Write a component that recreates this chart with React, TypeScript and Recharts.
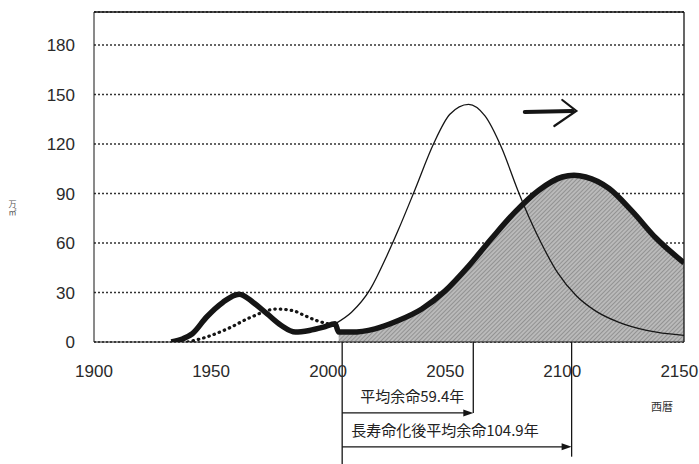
import React from 'react';
import {
  ComposedChart,
  Line,
  Area,
  XAxis,
  YAxis,
  CartesianGrid,
  ReferenceLine,
} from 'recharts';

// thick line: floor area built, shaded part is after long-life program
const thickYears = [1933, 1938, 1942, 1948, 1955, 1962, 1968, 1974, 1980, 1986, 1992, 1998, 2003, 2004.5, 2010, 2020, 2030, 2040, 2050, 2060, 2070, 2080, 2090, 2100, 2105, 2110, 2120, 2130, 2140, 2152];
const thickValues = [0, 2, 5, 15, 24, 29, 24, 17, 10, 6, 7, 9, 11, 6, 6, 8, 13, 20, 31, 46, 63, 79, 92, 100, 101, 100, 93, 79, 63, 48];

// thin line: renewal without long-life program
const thinYears = [2003, 2010, 2018, 2025, 2030, 2037, 2045, 2052, 2060, 2067, 2074, 2081, 2086, 2091, 2098, 2106, 2114, 2124, 2136, 2152];
const thinValues = [11, 18, 32, 52, 68, 92, 120, 138, 144, 137, 118, 92, 75, 60, 42, 28, 19, 12, 7, 4];

// dotted line
const dotYears = [1940, 1948, 1957, 1967, 1978, 1985, 1990, 1995, 2000, 2003];
const dotValues = [0, 3, 8, 15, 20, 19, 16, 13, 11, 10];

const xTicks = [1900, 1950, 2000, 2050, 2100, 2150];
const yTicks = [0, 30, 60, 90, 120, 150, 180];

const startYear = 2006;
const lifeEndYear = 2062;
const longLifeEndYear = 2104;
const label1 = '平均余命59.4年';
const label2 = '長寿命化後平均余命104.9年';

const toRows = (xs: number[], vs: number[]) => xs.map((year, i) => ({ year, v: vs[i] }));

const thickData = toRows(thickYears, thickValues);
const thinData = toRows(thinYears, thinValues);
const dotData = toRows(dotYears, dotValues);
const shadedData = thickData.filter(d => d.year >= 2004.5);

const INK = '#151515';
const JP = '"Noto Sans CJK JP", "Noto Sans", sans-serif';
const TICK_FONT = { fill: '#2a2a2a', fontSize: 17, fontFamily: '"Liberation Sans", Arial, sans-serif' };

const plainLine = (props: any) => (
  <line x1={props.x1} y1={props.y1} x2={props.x2} y2={props.y2} stroke={INK} strokeWidth={1.3} />
);

const arrowWithText = (text: string, align: 'start' | 'end') => (props: any) => {
  const { x1, y1, x2, y2 } = props;
  const tx = align === 'end' ? x2 - 9 : x1 + 9;
  return (
    <g>
      <line x1={x1} y1={y1} x2={x2 - 8} y2={y2} stroke={INK} strokeWidth={1.3} />
      <polygon points={`${x2},${y2} ${x2 - 10},${y2 - 3.5} ${x2 - 10},${y2 + 3.5}`} fill={INK} />
      <text x={tx} y={y1 - 11} textAnchor={align} fontSize={15} fontFamily={JP} fill="#222">
        {text}
      </text>
    </g>
  );
};

const handArrow = (props: any) => {
  const { x1, y1, x2, y2 } = props;
  return (
    <g stroke={INK} fill="none" strokeLinecap="round">
      <line x1={x1} y1={y1 + 1} x2={x2 - 4} y2={y2} strokeWidth={4} />
      <polyline points={`${x2 - 14},${y2 - 11} ${x2},${y2} ${x2 - 22},${y2 + 15}`} strokeWidth={2.2} />
    </g>
  );
};

const App: React.FC = () => {
  return (
    <div style={{ position: 'absolute', left: 0, top: 0, width: 699, height: 464, background: '#fff' }}>
      <ComposedChart
        width={699}
        height={464}
        margin={{ top: 12, right: 15, left: 34, bottom: 92 }}
      >
        <defs>
          <pattern id="hatch" width="3" height="3" patternUnits="userSpaceOnUse" patternTransform="rotate(45)">
            <rect width="3" height="3" fill="#bababa" />
            <line x1="0" y1="0" x2="0" y2="3" stroke="#777" strokeWidth="1.2" />
          </pattern>
        </defs>
        <CartesianGrid
          vertical={false}
          stroke="#333"
          strokeDasharray="2 2"
          strokeWidth={1.3}
        />
        <XAxis
          dataKey="year"
          type="number"
          domain={[1900, 2152]}
          ticks={xTicks}
          allowDataOverflow
          tickLine={false}
          tickSize={6}
          tickMargin={17}
          height={30}
          stroke={INK}
          tick={TICK_FONT}
        />
        <YAxis
          type="number"
          domain={[0, 200]}
          ticks={yTicks}
          allowDataOverflow
          tickLine={false}
          tickSize={6}
          tickMargin={13}
          width={60}
          stroke={INK}
          tick={TICK_FONT}
        />
        <ReferenceLine y={200} stroke={INK} strokeWidth={1.3} />
        <ReferenceLine x={2152} stroke={INK} strokeWidth={1.3} />

        <Area
          data={shadedData}
          dataKey="v"
          type="monotone"
          stroke="none"
          fill="url(#hatch)"
          fillOpacity={1}
          isAnimationActive={false}
        />
        <Line
          data={dotData}
          dataKey="v"
          type="monotone"
          stroke={INK}
          strokeWidth={3.2}
          strokeDasharray="0.5 5"
          strokeLinecap="round"
          dot={false}
          isAnimationActive={false}
        />
        <Line
          data={thinData}
          dataKey="v"
          type="monotone"
          stroke={INK}
          strokeWidth={1.3}
          dot={false}
          isAnimationActive={false}
        />
        <Line
          data={thickData}
          dataKey="v"
          type="monotone"
          stroke={INK}
          strokeWidth={5.5}
          strokeLinejoin="round"
          dot={false}
          isAnimationActive={false}
        />

        <ReferenceLine
          segment={[{ x: 2084, y: 140 }, { x: 2106, y: 140 }]}
          ifOverflow="visible"
          shape={handArrow}
        />

        <ReferenceLine
          segment={[{ x: startYear, y: 0 }, { x: startYear, y: -75 }]}
          ifOverflow="visible"
          shape={plainLine}
        />
        <ReferenceLine
          segment={[{ x: lifeEndYear, y: 0 }, { x: lifeEndYear, y: -43 }]}
          ifOverflow="visible"
          shape={plainLine}
        />
        <ReferenceLine
          segment={[{ x: longLifeEndYear, y: 0 }, { x: longLifeEndYear, y: -69.5 }]}
          ifOverflow="visible"
          shape={plainLine}
        />
        <ReferenceLine
          segment={[{ x: startYear, y: -43 }, { x: lifeEndYear, y: -43 }]}
          ifOverflow="visible"
          shape={arrowWithText(label1, 'end')}
        />
        <ReferenceLine
          segment={[{ x: startYear, y: -63.5 }, { x: longLifeEndYear, y: -63.5 }]}
          ifOverflow="visible"
          shape={arrowWithText(label2, 'start')}
        />
      </ComposedChart>
      <div
        style={{
          position: 'absolute',
          left: 7,
          top: 200,
          writingMode: 'vertical-rl',
          fontSize: 8,
          fontFamily: JP,
          color: '#555',
        }}
      >
        万㎡
      </div>
      <div
        style={{
          position: 'absolute',
          left: 651,
          top: 398,
          fontSize: 11,
          fontFamily: JP,
          color: '#333',
        }}
      >
        西暦
      </div>
    </div>
  );
};

export default App;
